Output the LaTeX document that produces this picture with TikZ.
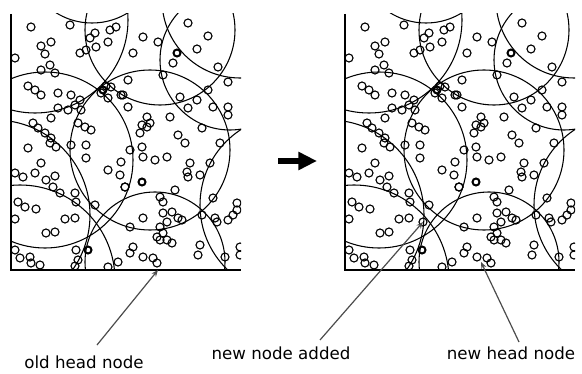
\documentclass[tikz,border=0pt]{standalone}
\usepackage{fontspec}
\setmainfont{DejaVu Sans}
\usetikzlibrary{arrows.meta}

\tikzset{
  sensor/.style={draw, line width=0.85pt},
  headsensor/.style={draw, line width=1.5pt},
  rangecircle/.style={draw, line width=0.8pt},
  frame/.style={line width=1.4pt},
  leader/.style={draw=black!70, line width=0.9pt, -{Stealth[length=5pt,width=4pt]}},
  caption/.style={font=\fontsize{12.5}{14}\selectfont, inner sep=0pt}
}

% one field of sensors with their cluster ranges
\newcommand{\fieldpanel}{%
  \begin{scope}
    \clip (11,14) rectangle (241,270);
    \foreach \cx/\cy/\r in {35/20/93, 240/0/78, 230/60/70, 160/30/75, 92/-45/68,
        155/262/70, 20/280/95, 45/160/88, 290/205/90, 150/150/80, -5/215/95}
      \draw[rangecircle] (\cx,\cy) circle [radius=\r];
    \foreach \sx/\sy in {31/27, 70/25, 15/58, 41/46, 51/42, 45/54, 50/65, 41/70, 55/73,
        28/86, 35/90, 41/95, 58/93, 71/95, 80/100, 75/105, 81/110, 58/108, 68/110,
        51/118, 33/123, 38/128, 45/133, 51/138, 78/123, 85/127, 91/130, 80/53, 86/50,
        95/33, 90/38, 96/47, 108/42, 110/30, 116/27, 101/93, 106/86, 111/87, 108/98,
        121/95, 143/37, 158/42, 133/53, 188/23, 208/36, 197/49, 173/63, 163/75,
        128/80, 123/95, 218/67, 228/82, 208/90, 197/100, 180/97, 188/108, 213/107,
        228/107, 228/115, 147/117, 142/125, 147/127, 150/123, 140/133, 170/117,
        202/128, 178/135, 128/107, 28/148, 50/143, 56/147, 71/145, 86/145, 86/158,
        41/163, 35/173, 23/177, 15/173, 46/180, 55/176, 53/187, 60/193, 75/193,
        76/202, 108/170, 121/162, 120/175, 125/187, 18/202, 25/207, 36/209, 15/219,
        65/219, 75/218, 95/205, 46/233, 55/232, 15/250, 20/258, 30/257, 31/263,
        40/265, 76/250, 78/260, 75/266, 108/267, 118/262, 130/150, 142/147,
        143/157, 155/160, 167/157, 185/143, 220/143, 190/163, 187/172, 188/177,
        200/175, 210/163, 125/187, 175/190, 160/197, 163/202, 213/198, 237/203,
        237/210, 233/215, 228/220, 143/218, 163/213, 172/212, 178/218, 182/220,
        167/222, 202/215, 215/218, 217/222, 130/227, 160/227, 163/233, 157/237,
        167/240, 172/243, 160/240, 200/245, 198/255, 133/247, 130/253, 143/257,
        153/258, 157/263, 225/257, 240/247, 240/255}
      \draw[sensor] (\sx,\sy) circle [radius=4];
    \foreach \sx/\sy in {177/53, 103/90, 142/182, 88/250}
      \draw[headsensor] (\sx,\sy) circle [radius=3.5];
  \end{scope}
  \draw[frame] (11,14) -- (11,270) -- (241,270);
}

\begin{document}
\begin{tikzpicture}[x=0.75pt, y=-0.75pt]
\useasboundingbox (0,0) rectangle (582,374);

\fieldpanel
\begin{scope}[xshift=250.5pt]
  \fieldpanel
  \draw[sensor] (89,222) circle [radius=4];
\end{scope}

\coordinate (from) at (278,161);
\coordinate (to) at (317,161);
\draw[line width=4.5pt, -{Triangle[length=14pt,width=13pt]}] (from) -- (to);

\node[caption] (old) at (84,362) {old head node};
\node[caption] (added) at (281,353) {new node added};
\node[caption] (newhead) at (511,353) {new head node};

\coordinate (oldfoot) at (97,345);
\coordinate (oldtip) at (158,270);
\coordinate (addedfoot) at (320,340);
\coordinate (addedtip) at (423,222);
\coordinate (newfoot) at (519,342);
\coordinate (newtip) at (481,262);
\draw[leader] (oldfoot) -- (oldtip);
\draw[leader] (addedfoot) -- (addedtip);
\draw[leader] (newfoot) -- (newtip);
\end{tikzpicture}
\end{document}
